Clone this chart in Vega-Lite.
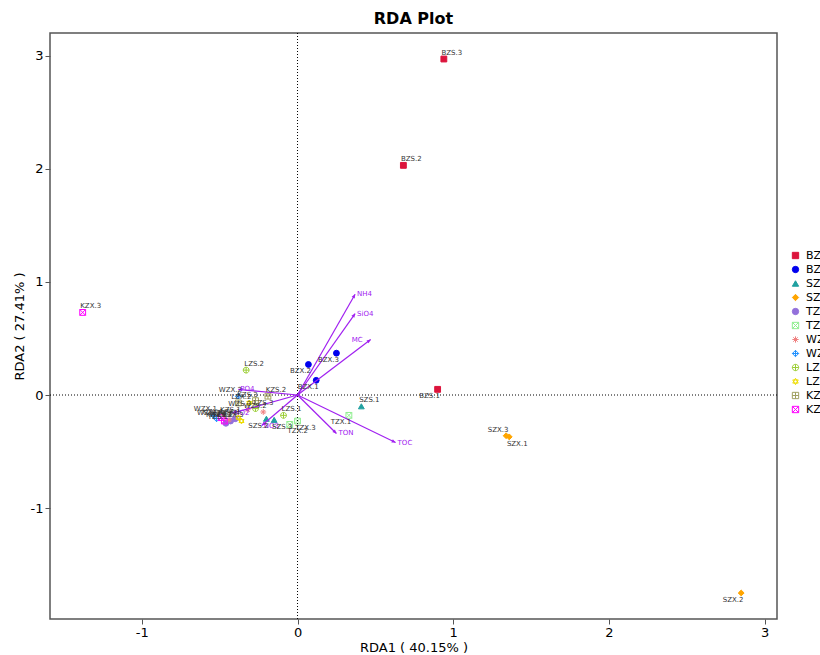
{
  "$schema": "https://vega.github.io/schema/vega-lite/v6.json",
  "autosize": {"type": "none"},
  "padding": {"left": 50, "top": 33, "right": 43, "bottom": 36},
  "width": 727,
  "height": 586,
  "background": "white",
  "title": {"text": "RDA Plot", "fontSize": 16, "fontWeight": "bold", "font": "DejaVu Sans", "offset": 6, "color": "black"},
  "config": {
    "view": {"stroke": "#555", "strokeWidth": 1.5},
    "axis": {"grid": false, "domain": false, "labelFont": "DejaVu Sans", "labelFontSize": 13, "labelColor": "black", "tickColor": "#555", "tickSize": 5, "labelPadding": 2, "titleFont": "DejaVu Sans", "titleFontSize": 13, "titleFontWeight": "normal", "titleColor": "black"},
    "legend": {"orient": "none", "legendX": 740, "legendY": 217, "padding": 0, "labelFont": "DejaVu Sans", "labelFontSize": 11, "labelColor": "black", "symbolSize": 40, "labelOffset": 5, "rowPadding": 2, "symbolStrokeWidth": 1}
  },
  "datasets": {
    "samples": [
      {"group": "BZS", "label": "BZS.1", "x": 0.90, "y": 0.05},
      {"group": "BZS", "label": "BZS.2", "x": 0.68, "y": 2.03},
      {"group": "BZS", "label": "BZS.3", "x": 0.94, "y": 2.97},
      {"group": "BZX", "label": "BZX.1", "x": 0.12, "y": 0.13},
      {"group": "BZX", "label": "BZX.2", "x": 0.07, "y": 0.27},
      {"group": "BZX", "label": "BZX.3", "x": 0.25, "y": 0.37},
      {"group": "SZS", "label": "SZS.1", "x": 0.41, "y": -0.10},
      {"group": "SZS", "label": "SZS.2", "x": -0.20, "y": -0.21},
      {"group": "SZS", "label": "SZS.3", "x": -0.15, "y": -0.22},
      {"group": "SZX", "label": "SZX.1", "x": 1.36, "y": -0.37},
      {"group": "SZX", "label": "SZX.2", "x": 2.85, "y": -1.75},
      {"group": "SZX", "label": "SZX.3", "x": 1.34, "y": -0.36},
      {"group": "TZS", "label": "TZS.1", "x": -0.46, "y": -0.25},
      {"group": "TZS", "label": "TZS.2", "x": -0.43, "y": -0.23},
      {"group": "TZS", "label": "TZS.3", "x": -0.40, "y": -0.21},
      {"group": "TZX", "label": "TZX.1", "x": 0.33, "y": -0.18},
      {"group": "TZX", "label": "TZX.2", "x": -0.05, "y": -0.26},
      {"group": "TZX", "label": "TZX.3", "x": 0.00, "y": -0.23},
      {"group": "WZS", "label": "WZS.1", "x": -0.44, "y": -0.22},
      {"group": "WZS", "label": "WZS.2", "x": -0.22, "y": -0.15},
      {"group": "WZS", "label": "WZS.3", "x": -0.32, "y": -0.13},
      {"group": "WZX", "label": "WZX.1", "x": -0.54, "y": -0.18},
      {"group": "WZX", "label": "WZX.2", "x": -0.38, "y": -0.01},
      {"group": "WZX", "label": "WZX.3", "x": -0.52, "y": -0.21},
      {"group": "LZS", "label": "LZS.1", "x": -0.09, "y": -0.18},
      {"group": "LZS", "label": "LZS.2", "x": -0.33, "y": 0.22},
      {"group": "LZS", "label": "LZS.3", "x": -0.27, "y": -0.12},
      {"group": "LZX", "label": "LZX.1", "x": -0.38, "y": -0.20},
      {"group": "LZX", "label": "LZX.2", "x": -0.31, "y": -0.07},
      {"group": "LZX", "label": "LZX.3", "x": -0.36, "y": -0.23},
      {"group": "KZS", "label": "KZS.1", "x": -0.38, "y": -0.07},
      {"group": "KZS", "label": "KZS.2", "x": -0.19, "y": -0.01},
      {"group": "KZS", "label": "KZS.3", "x": -0.27, "y": -0.05},
      {"group": "KZX", "label": "KZX.1", "x": -0.49, "y": -0.20},
      {"group": "KZX", "label": "KZX.2", "x": -0.47, "y": -0.23},
      {"group": "KZX", "label": "KZX.3", "x": -1.38, "y": 0.73}
    ],
    "env": [
      {"var": "NH4", "x": 0.37, "y": 0.89},
      {"var": "SiO4", "x": 0.37, "y": 0.72},
      {"var": "MC", "x": 0.47, "y": 0.49},
      {"var": "TOC", "x": 0.63, "y": -0.42},
      {"var": "TON", "x": 0.25, "y": -0.34},
      {"var": "PO4", "x": -0.38, "y": 0.05},
      {"var": "NO2", "x": -0.42, "y": -0.16},
      {"var": "NO3", "x": -0.23, "y": -0.27}
    ]
  },
  "layer": [
    {
      "data": {"name": "samples"},
      "mark": {"type": "point", "size": 34, "strokeWidth": 1, "opacity": 1},
      "encoding": {
        "x": {"field": "x", "type": "quantitative", "scale": {"domain": [-1.59, 3.08], "nice": false, "zero": false}, "axis": {"values": [-1, 0, 1, 2, 3], "labelExpr": "'' + datum.value", "title": "RDA1 ( 40.15% )", "titlePadding": 2}},
        "y": {"field": "y", "type": "quantitative", "scale": {"domain": [-1.98, 3.20], "nice": false, "zero": false}, "axis": {"values": [-1, 0, 1, 2, 3], "labelExpr": "'' + datum.value", "title": "RDA2 ( 27.41% )", "titlePadding": 4}},
        "stroke": {"field": "group", "type": "nominal", "title": null,
          "scale": {"domain": ["BZS", "BZX", "SZS", "SZX", "TZS", "TZX", "WZS", "WZX", "LZS", "LZX", "KZS", "KZX"],
            "range": ["#DC143C", "#0000EE", "#20A0A0", "#FFA500", "#9370DB", "#90EE90", "#F08080", "#1E90FF", "#9ACD32", "#EEDD00", "#A0A060", "#FF00FF"]}},
        "fill": {"field": "group", "type": "nominal", "title": null,
          "scale": {"domain": ["BZS", "BZX", "SZS", "SZX", "TZS", "TZX", "WZS", "WZX", "LZS", "LZX", "KZS", "KZX"],
            "range": ["#DC143C", "#0000EE", "#20A0A0", "#FFA500", "#9370DB", "transparent", "transparent", "transparent", "transparent", "transparent", "transparent", "transparent"]}},
        "shape": {"field": "group", "type": "nominal", "title": null,
          "scale": {"domain": ["BZS", "BZX", "SZS", "SZX", "TZS", "TZX", "WZS", "WZX", "LZS", "LZX", "KZS", "KZX"],
            "range": ["square", "circle", "triangle-up", "diamond", "circle",
              "M-1,-1L1,-1L1,1L-1,1Z M-1,-1L1,1 M1,-1L-1,1",
              "M-1,0L1,0 M0,-1L0,1 M-0.7,-0.7L0.7,0.7 M0.7,-0.7L-0.7,0.7",
              "M0,-1L1,0L0,1L-1,0Z M-1,0L1,0 M0,-1L0,1",
              "M-1,0A1,1,0,1,0,1,0A1,1,0,1,0,-1,0Z M-1,0L1,0 M0,-1L0,1",
              "M0,-1L0.866,0.5L-0.866,0.5Z M0,1L0.866,-0.5L-0.866,-0.5Z",
              "M-1,-1L1,-1L1,1L-1,1Z M-1,0L1,0 M0,-1L0,1",
              "M-1,-1L1,-1L1,1L-1,1Z M-1,-1L1,1 M1,-1L-1,1"]}}
      }
    },
    {
      "data": {"values": [{"z": 0}]},
      "mark": {"type": "rule", "color": "black", "strokeDash": [1, 2], "strokeWidth": 1},
      "encoding": {"x": {"field": "z", "type": "quantitative"}}
    },
    {
      "data": {"values": [{"z": 0}]},
      "mark": {"type": "rule", "color": "black", "strokeDash": [1, 2], "strokeWidth": 1},
      "encoding": {"y": {"field": "z", "type": "quantitative"}}
    },
    {
      "data": {"name": "env"},
      "mark": {"type": "rule", "color": "#A020F0", "strokeWidth": 1.2},
      "encoding": {
        "x": {"field": "x", "type": "quantitative"},
        "y": {"field": "y", "type": "quantitative"},
        "x2": {"datum": 0},
        "y2": {"datum": 0}
      }
    },
    {
      "data": {"name": "env"},
      "mark": {"type": "point", "shape": "M-0.6,1.3L0,0L0.6,1.3Z", "filled": true, "color": "#A020F0", "size": 36, "opacity": 1, "angle": {"expr": "atan2(scale('x', datum.x) - scale('x', 0), scale('y', 0) - scale('y', datum.y)) * 180 / PI"}},
      "encoding": {
        "x": {"field": "x", "type": "quantitative"},
        "y": {"field": "y", "type": "quantitative"}
      }
    },
    {
      "data": {"name": "env"},
      "transform": [{"filter": "datum.var != 'MC'"}],
      "mark": {"type": "text", "color": "#A020F0", "fontSize": 7, "font": "DejaVu Sans", "align": "left", "baseline": "middle", "dx": 2},
      "encoding": {
        "x": {"field": "x", "type": "quantitative"},
        "y": {"field": "y", "type": "quantitative"},
        "text": {"field": "var"}
      }
    },
    {
      "data": {"name": "env"},
      "transform": [{"filter": "datum.var == 'MC'"}],
      "mark": {"type": "text", "color": "#A020F0", "fontSize": 7, "font": "DejaVu Sans", "align": "right", "baseline": "middle", "dx": -8},
      "encoding": {
        "x": {"field": "x", "type": "quantitative"},
        "y": {"field": "y", "type": "quantitative"},
        "text": {"field": "var"}
      }
    },
    {
      "data": {"name": "samples"},
      "transform": [{"filter": {"field": "label", "oneOf": ["BZS.3", "BZS.2", "SZS.1", "KZX.3", "LZS.2", "LZS.1", "KZS.2", "LZS.3"]}}],
      "mark": {"type": "text", "color": "#333", "fontSize": 7, "font": "DejaVu Sans", "align": "center", "baseline": "middle", "dx": 8, "dy": -6},
      "encoding": {
        "x": {"field": "x", "type": "quantitative"},
        "y": {"field": "y", "type": "quantitative"},
        "text": {"field": "label"}
      }
    },
    {
      "data": {"name": "samples"},
      "transform": [{"filter": {"field": "label", "oneOf": ["BZS.1", "BZX.1", "BZX.2", "BZX.3", "SZX.2", "TZX.1", "SZS.2", "KZS.1"]}}],
      "mark": {"type": "text", "color": "#333", "fontSize": 7, "font": "DejaVu Sans", "align": "center", "baseline": "middle", "dx": -8, "dy": 7},
      "encoding": {
        "x": {"field": "x", "type": "quantitative"},
        "y": {"field": "y", "type": "quantitative"},
        "text": {"field": "label"}
      }
    },
    {
      "data": {"name": "samples"},
      "transform": [{"filter": {"field": "label", "oneOf": ["SZX.1", "TZX.2", "TZX.3", "SZS.3"]}}],
      "mark": {"type": "text", "color": "#333", "fontSize": 7, "font": "DejaVu Sans", "align": "center", "baseline": "middle", "dx": 8, "dy": 7},
      "encoding": {
        "x": {"field": "x", "type": "quantitative"},
        "y": {"field": "y", "type": "quantitative"},
        "text": {"field": "label"}
      }
    },
    {
      "data": {"name": "samples"},
      "transform": [{"filter": {"not": {"field": "label", "oneOf": ["BZS.3", "BZS.2", "SZS.1", "KZX.3", "LZS.2", "LZS.1", "KZS.2", "LZS.3", "BZS.1", "BZX.1", "BZX.2", "BZX.3", "SZX.2", "TZX.1", "SZS.2", "KZS.1", "SZX.1", "TZX.2", "TZX.3", "SZS.3"]}}}],
      "mark": {"type": "text", "color": "#333", "fontSize": 7, "font": "DejaVu Sans", "align": "center", "baseline": "middle", "dx": -8, "dy": -6},
      "encoding": {
        "x": {"field": "x", "type": "quantitative"},
        "y": {"field": "y", "type": "quantitative"},
        "text": {"field": "label"}
      }
    }
  ]
}
